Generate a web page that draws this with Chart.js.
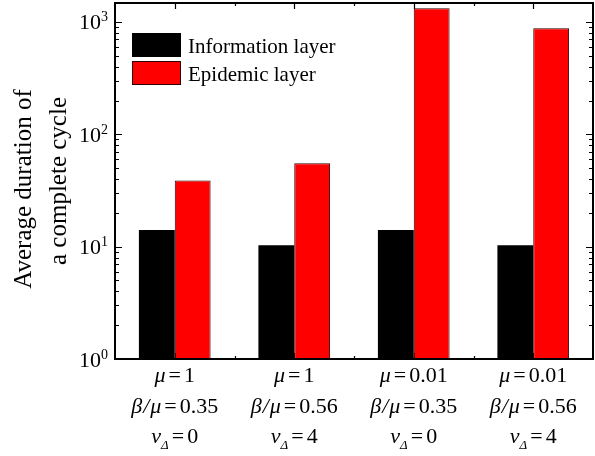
<!DOCTYPE html>
<html>
<head>
<meta charset="utf-8">
<script src="https://cdn.jsdelivr.net/npm/chart.js@4/dist/chart.umd.min.js"></script>
<style>
  html, body { margin: 0; padding: 0; background: #fff; }
  #wrap { width: 595px; height: 456px; }
</style>
</head>
<body>
<div id="wrap"><canvas id="cycleChart" width="595" height="456"></canvas></div>
<script>
// Data
const categories = ['case1', 'case2', 'case3', 'case4'];
const muLabels = ['1', '1', '0.01', '0.01'];
const ratioLabels = ['0.35', '0.56', '0.35', '0.56'];
const nuLabels = ['0', '4', '0', '4'];
const infoLayer = [14.1, 10.3, 14.1, 10.3];
const epidemicLayer = [38.8, 55.3, 1327, 881];
const yTickValues = [1, 10, 100, 1000];
const yTickExponents = ['0', '1', '2', '3'];

const SERIF = "'Liberation Serif', 'Times New Roman', serif";

// draw a row of text pieces (different fonts) centred on cx
function drawParts(ctx, parts, cx, y) {
    let total = 0;
    parts.forEach(p => { ctx.font = p.font; total += ctx.measureText(p.t).width + (p.gap || 0) * 2; });
    let x = cx - total / 2;
    parts.forEach(p => {
        ctx.font = p.font;
        x += p.gap || 0;
        ctx.fillText(p.t, x, y + (p.dy || 0));
        x += ctx.measureText(p.t).width + (p.gap || 0);
    });
}

const axisDeco = {
    id: 'axisDeco',
    beforeDatasetsDraw(chart) {
        const { ctx, chartArea: a, scales: { x, y } } = chart;
        ctx.save();
        ctx.strokeStyle = '#000';
        ctx.lineWidth = 1.2;
        ctx.beginPath();
        // y ticks, both sides, inward
        for (let d = 0; d <= 3; d++) {
            for (let k = 1; k <= 9; k++) {
                const v = k * Math.pow(10, d);
                if (v > y.max) continue;
                const py = Math.round(y.getPixelForValue(v)) + 0.5;
                const len = k === 1 ? 7 : 4;
                ctx.moveTo(a.left, py); ctx.lineTo(a.left + len, py);
                ctx.moveTo(a.right, py); ctx.lineTo(a.right - len, py);
            }
        }
        // x ticks: major at centres, minor at boundaries
        categories.forEach((c, i) => {
            const px = Math.round(x.getPixelForValue(i)) + 0.5;
            ctx.moveTo(px, a.top); ctx.lineTo(px, a.top + 6);
            ctx.moveTo(px, a.bottom); ctx.lineTo(px, a.bottom - 6);
            if (i > 0) {
                const bx = Math.round((x.getPixelForValue(i) + x.getPixelForValue(i - 1)) / 2) + 0.5;
                ctx.moveTo(bx, a.top); ctx.lineTo(bx, a.top + 3);
                ctx.moveTo(bx, a.bottom); ctx.lineTo(bx, a.bottom - 3);
            }
        });
        ctx.stroke();
        ctx.restore();
    },
    afterDatasetsDraw(chart) {
        const { ctx, chartArea: a } = chart;
        ctx.save();
        ctx.strokeStyle = '#000';
        ctx.lineWidth = 2;
        ctx.strokeRect(a.left, a.top, a.right - a.left, a.bottom - a.top);
        ctx.restore();
    },
    afterDraw(chart) {
        const { ctx, chartArea: a, scales: { x, y } } = chart;
        ctx.save();
        ctx.fillStyle = '#000';
        ctx.textBaseline = 'alphabetic';

        // y tick labels 10^n
        yTickValues.forEach((v, i) => {
            const py = y.getPixelForValue(v);
            ctx.font = '22px ' + SERIF;
            const w1 = ctx.measureText('10').width;
            ctx.font = '14px ' + SERIF;
            const w2 = ctx.measureText(yTickExponents[i]).width;
            const right = a.left - 7;
            ctx.textAlign = 'left';
            ctx.font = '22px ' + SERIF;
            ctx.fillText('10', right - w2 - w1, py + 7.5);
            ctx.font = '14px ' + SERIF;
            ctx.fillText(yTickExponents[i], right - w2, py - 0.5);
        });

        // x category labels
        const it = 'italic 22px ' + SERIF;
        const rm = '22px ' + SERIF;
        const sub = 'italic 13px ' + SERIF;
        ctx.textAlign = 'left';
        categories.forEach((c, i) => {
            const cx = x.getPixelForValue(i);
            drawParts(ctx, [{ t: 'μ', font: it }, { t: '=', font: rm, gap: 3 }, { t: muLabels[i], font: rm }], cx, a.bottom + 23);
            drawParts(ctx, [{ t: 'β', font: it }, { t: '/', font: it, gap: 1 }, { t: 'μ', font: it },
                            { t: '=', font: rm, gap: 3 }, { t: ratioLabels[i], font: rm }], cx, a.bottom + 54);
            drawParts(ctx, [{ t: 'ν', font: it }, { t: 'Δ', font: sub, dy: 6 }, { t: '=', font: rm, gap: 3 }, { t: nuLabels[i], font: rm }], cx, a.bottom + 84);
        });

        // y axis title
        ctx.save();
        ctx.textAlign = 'center';
        ctx.font = '25px ' + SERIF;
        ctx.translate(31, 185);
        ctx.rotate(-Math.PI / 2);
        ctx.fillText('Average duration of', -4, 0);
        ctx.fillText('a complete cycle', 4, 35);
        ctx.restore();

        // legend inside the plot
        ctx.font = '21px ' + SERIF;
        ctx.textAlign = 'left';
        chart.data.datasets.forEach((ds, i) => {
            const top = a.top + 30 + i * 28;
            ctx.fillStyle = ds.backgroundColor;
            ctx.fillRect(132, top, 49, 24);
            ctx.strokeStyle = ds.borderColor;
            ctx.lineWidth = 1;
            ctx.strokeRect(132.5, top + 0.5, 48, 23);
            ctx.fillStyle = '#000';
            ctx.fillText(ds.label, 188, top + 20);
        });
        ctx.restore();
    }
};

new Chart(document.getElementById('cycleChart'), {
    type: 'bar',
    data: {
        labels: categories,
        datasets: [
            { label: 'Information layer', data: infoLayer, backgroundColor: '#000000', borderColor: '#000000', borderWidth: 0 },
            { label: 'Epidemic layer', data: epidemicLayer, backgroundColor: '#ff0000', borderColor: '#2a0000', borderWidth: 1 }
        ]
    },
    options: {
        responsive: false,
        animation: false,
        layout: { padding: { left: 115, right: 2, top: 3, bottom: 97 } },
        datasets: { bar: { categoryPercentage: 0.6, barPercentage: 1.0 } },
        plugins: { legend: { display: false }, tooltip: { enabled: false } },
        scales: {
            x: { display: false, offset: true },
            y: { type: 'logarithmic', display: false, min: 1, max: 1476 }
        }
    },
    plugins: [axisDeco]
});
</script>
</body>
</html>
